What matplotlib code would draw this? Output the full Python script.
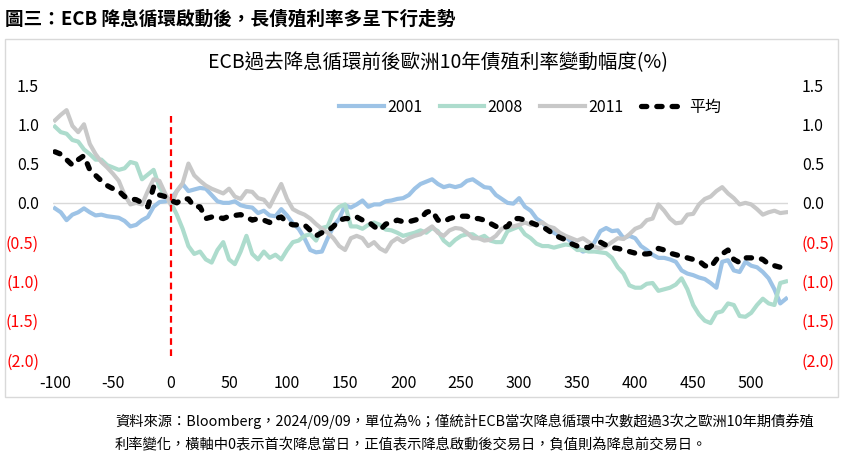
import numpy as np
import matplotlib
matplotlib.use('Agg')
import matplotlib.pyplot as plt
from matplotlib.patches import Rectangle

plt.rcParams['font.family'] = ['Noto Sans CJK TC', 'DejaVu Sans']

# Days relative to first rate cut, one reading every 5 trading days
days = np.arange(-100, 531, 5)

s2001 = [-0.07, -0.12, -0.22, -0.15, -0.12, -0.07, -0.12, -0.16, -0.15, -0.17,
         -0.18, -0.19, -0.23, -0.30, -0.28, -0.22, -0.18, -0.05, 0.01, 0.02,
         0.05, 0.15, 0.24, 0.15, 0.17, 0.19, 0.18, 0.10, 0.02, 0.00,
         0.00, 0.02, -0.03, -0.05, -0.06, -0.13, -0.10, -0.16, -0.17, -0.08,
         -0.16, -0.26, -0.33, -0.45, -0.60, -0.63, -0.62, -0.45, -0.30, -0.20,
         -0.03, -0.06, -0.02, 0.03, -0.05, -0.02, -0.02, 0.02, 0.03, 0.05,
         0.06, 0.10, 0.18, 0.24, 0.27, 0.30, 0.24, 0.20, 0.22, 0.20,
         0.22, 0.28, 0.30, 0.25, 0.20, 0.19, 0.10, 0.05, 0.00, -0.01,
         0.06, -0.05, -0.10, -0.20, -0.25, -0.33, -0.38, -0.42, -0.43, -0.50,
         -0.57, -0.62, -0.60, -0.50, -0.36, -0.32, -0.36, -0.35, -0.45, -0.42,
         -0.45, -0.55, -0.60, -0.66, -0.70, -0.70, -0.72, -0.75, -0.86, -0.90,
         -0.92, -0.95, -0.97, -1.02, -1.08, -0.75, -0.73, -0.86, -0.88, -0.75,
         -0.80, -0.82, -0.88, -0.96, -1.10, -1.28, -1.22]

s2008 = [0.97, 0.90, 0.88, 0.80, 0.78, 0.68, 0.62, 0.55, 0.55, 0.48,
         0.45, 0.42, 0.44, 0.52, 0.50, 0.30, 0.36, 0.42, 0.20, 0.10,
         0.00, -0.15, -0.33, -0.55, -0.65, -0.62, -0.72, -0.76, -0.60, -0.50,
         -0.72, -0.78, -0.62, -0.42, -0.65, -0.72, -0.62, -0.70, -0.66, -0.72,
         -0.60, -0.50, -0.48, -0.42, -0.40, -0.48, -0.32, -0.30, -0.12, -0.05,
         -0.02, -0.30, -0.30, -0.33, -0.28, -0.25, -0.28, -0.34, -0.35, -0.38,
         -0.42, -0.40, -0.38, -0.35, -0.38, -0.32, -0.36, -0.48, -0.54, -0.47,
         -0.42, -0.40, -0.40, -0.45, -0.42, -0.48, -0.50, -0.50, -0.36, -0.33,
         -0.30, -0.40, -0.45, -0.52, -0.55, -0.55, -0.57, -0.55, -0.53, -0.54,
         -0.60, -0.60, -0.62, -0.62, -0.63, -0.64, -0.70, -0.82, -0.90, -1.05,
         -1.08, -1.08, -1.03, -1.02, -1.12, -1.10, -1.08, -1.04, -0.96, -1.10,
         -1.30, -1.42, -1.50, -1.53, -1.40, -1.38, -1.28, -1.30, -1.44, -1.45,
         -1.40, -1.30, -1.22, -1.28, -1.30, -1.02, -1.00]

s2011 = [1.05, 1.12, 1.18, 0.98, 0.90, 1.00, 0.75, 0.62, 0.52, 0.45,
         0.37, 0.28, 0.10, -0.02, 0.00, -0.02, 0.15, 0.30, 0.28, 0.12,
         -0.03, 0.15, 0.25, 0.50, 0.35, 0.28, 0.22, 0.18, 0.15, 0.12,
         0.18, 0.08, 0.05, 0.15, 0.14, 0.06, 0.04, -0.05, 0.10, 0.24,
         0.05, -0.08, -0.12, -0.15, -0.20, -0.27, -0.33, -0.38, -0.45, -0.55,
         -0.60, -0.45, -0.42, -0.45, -0.55, -0.50, -0.58, -0.62, -0.50, -0.45,
         -0.50, -0.45, -0.42, -0.40, -0.35, -0.30, -0.38, -0.42, -0.35, -0.32,
         -0.33, -0.38, -0.45, -0.45, -0.48, -0.47, -0.42, -0.33, -0.30, -0.30,
         -0.28, -0.25, -0.28, -0.27, -0.25, -0.30, -0.32, -0.38, -0.42, -0.45,
         -0.48, -0.45, -0.50, -0.56, -0.58, -0.55, -0.50, -0.45, -0.46, -0.40,
         -0.33, -0.30, -0.22, -0.20, -0.02, -0.10, -0.20, -0.26, -0.25, -0.15,
         -0.14, -0.02, 0.05, 0.08, 0.15, 0.20, 0.12, 0.06, -0.02, 0.00,
         -0.02, -0.08, -0.15, -0.12, -0.10, -0.13, -0.12]

avg = [0.65, 0.62, 0.55, 0.48, 0.55, 0.60, 0.42, 0.35, 0.28, 0.22,
       0.18, 0.15, 0.08, 0.05, 0.04, 0.00, -0.05, 0.20, 0.10, 0.08,
       0.03, 0.00, 0.05, 0.05, -0.05, -0.05, -0.20, -0.18, -0.18, -0.20,
       -0.17, -0.16, -0.15, -0.18, -0.22, -0.20, -0.22, -0.25, -0.20, -0.18,
       -0.25, -0.28, -0.28, -0.28, -0.35, -0.42, -0.38, -0.36, -0.30, -0.22,
       -0.20, -0.20, -0.18, -0.22, -0.24, -0.30, -0.35, -0.27, -0.25, -0.22,
       -0.24, -0.24, -0.22, -0.20, -0.12, -0.10, -0.22, -0.24, -0.20, -0.18,
       -0.17, -0.17, -0.20, -0.20, -0.22, -0.26, -0.30, -0.32, -0.30, -0.20,
       -0.20, -0.22, -0.25, -0.28, -0.30, -0.35, -0.40, -0.44, -0.47, -0.52,
       -0.55, -0.56, -0.57, -0.52, -0.50, -0.54, -0.57, -0.58, -0.60, -0.62,
       -0.64, -0.65, -0.65, -0.64, -0.58, -0.60, -0.64, -0.66, -0.68, -0.70,
       -0.72, -0.74, -0.80, -0.82, -0.72, -0.65, -0.60, -0.72, -0.76, -0.70,
       -0.70, -0.70, -0.72, -0.78, -0.80, -0.82, -0.80]

x_ticks = list(range(-100, 501, 50))
x_labels = [str(v) for v in x_ticks]
y_ticks = [-2.0, -1.5, -1.0, -0.5, 0.0, 0.5, 1.0, 1.5]
y_labels = ['(2.0)', '(1.5)', '(1.0)', '(0.5)', '0.0', '0.5', '1.0', '1.5']

W, H = 843, 457
fig = plt.figure(figsize=(W / 100, H / 100), dpi=100)

def fx(px):
    return px / W

def fy(py):
    return 1 - py / H

# outer frame of the chart
fig.patches.append(Rectangle((fx(5), fy(397)), fx(833), (397 - 39) / H,
                             transform=fig.transFigure, fill=False,
                             edgecolor='#D9D9D9', linewidth=1))

ax = fig.add_axes([fx(53), fy(360), fx(735), 275 / H])
ax.set_xlim(-101.7, 531.7)
ax.set_ylim(-2.0, 1.5)

ax.axhline(0, color='#D9D9D9', linewidth=1, zorder=1)

ax.plot(days, s2001, color='#9DC3E6', linewidth=3.0, label='2001', zorder=2)
ax.plot(days, s2008, color='#ADDCCD', linewidth=3.0, label='2008', zorder=3)
ax.plot(days, s2011, color='#C8C8C8', linewidth=3.0, label='2011', zorder=4)
ax.plot(days, avg, color='black', linewidth=3.8, dashes=(1.0, 1.9),
        dash_capstyle='round', label='平均', zorder=5)

ax.vlines(0, -1.95, 1.1, colors='#FF0000', linestyles=(0, (3, 2)),
          linewidth=1.6, zorder=6)

for s in ax.spines.values():
    s.set_visible(False)

ax.set_xticks(x_ticks)
ax.set_xticklabels(x_labels)
ax.set_yticks(y_ticks)
ax.set_yticklabels(y_labels)
ax.tick_params(axis='x', length=0, pad=11, labelsize=11.5)
ax.tick_params(axis='y', length=0, pad=10, labelsize=11.5,
               labelleft=True, labelright=True)
for val, tick in zip(y_ticks, ax.yaxis.get_major_ticks()):
    c = '#FF0000' if val < 0 else 'black'
    tick.label1.set_color(c)
    tick.label2.set_color(c)

fig.legend(loc='center', bbox_to_anchor=(fx(530), fy(107)), ncol=4,
           frameon=False, fontsize=11.5, handlelength=2.8,
           handletextpad=0.2, columnspacing=1.1)

fig.text(fx(5), fy(19), '圖三：ECB 降息循環啟動後，長債殖利率多呈下行走勢',
         fontsize=13.4, fontweight='bold', ha='left', va='center')
fig.text(fx(438), fy(63), 'ECB過去降息循環前後歐洲10年債殖利率變動幅度(%)',
         fontsize=14, ha='center', va='center')

fig.text(fx(115), fy(421),
         '資料來源：Bloomberg，2024/09/09，單位為%；僅統計ECB當次降息循環中次數超過3次之歐洲10年期債券殖',
         fontsize=10.3, ha='left', va='center')
fig.text(fx(115), fy(445),
         '利率變化，橫軸中0表示首次降息當日，正值表示降息啟動後交易日，負值則為降息前交易日。',
         fontsize=10.3, ha='left', va='center')

fig.savefig('out.png', dpi=100)
